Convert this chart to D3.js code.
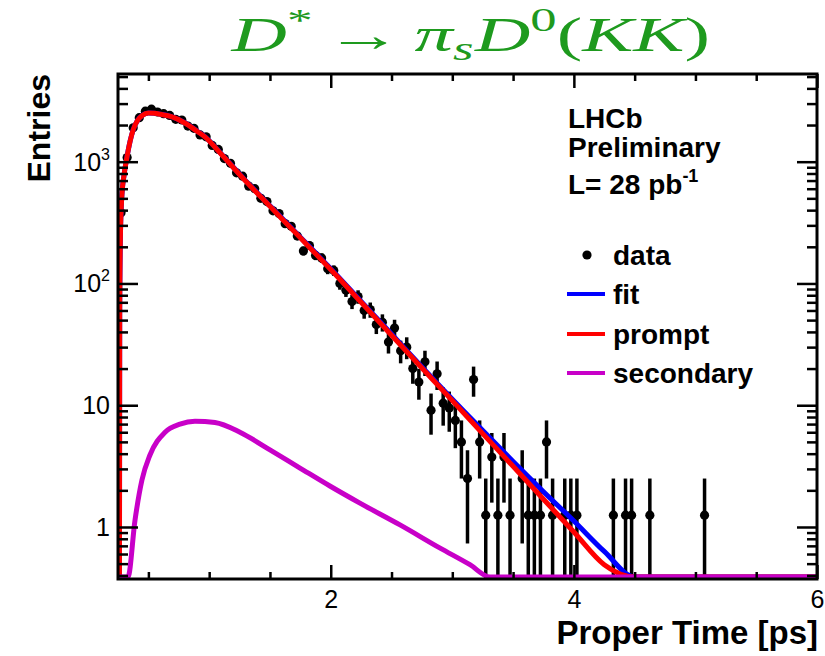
<!DOCTYPE html>
<html lang="en">
<head>
<meta charset="UTF-8">
<title>D* proper time</title>
<style>
  body { margin: 0; background: #fff; }
  svg { display: block; }
  .lbl { font-family: "Liberation Sans", Arial, sans-serif; fill: #000; }
  .bold { font-family: "Liberation Sans", Arial, sans-serif; font-weight: bold; fill: #000; }
</style>
</head>
<body>
<div id="chart"></div>
<script src="https://cdn.jsdelivr.net/npm/d3@7/dist/d3.min.js"></script>
<script>
// histogram bins (centre in ps) and weighted entries
const dataTime = [
  0.275, 0.325, 0.375, 0.425, 0.475, 0.525, 0.575, 0.625, 0.675, 0.725,
  0.775, 0.825, 0.875, 0.925, 0.975, 1.025, 1.075, 1.125, 1.175, 1.225,
  1.275, 1.325, 1.375, 1.425, 1.475, 1.525, 1.575, 1.625, 1.675, 1.725,
  1.775, 1.825, 1.875, 1.925, 1.975, 2.025, 2.075, 2.125, 2.175, 2.225,
  2.275, 2.325, 2.375, 2.425, 2.475, 2.525, 2.575, 2.625, 2.675, 2.725,
  2.775, 2.825, 2.875, 2.925, 2.975, 3.025, 3.075, 3.125, 3.175, 3.225,
  3.275, 3.325, 3.375, 3.425, 3.475, 3.575, 3.625, 3.675, 3.725, 3.775,
  3.825, 3.925, 3.975, 4.025, 4.325, 4.425, 4.475, 4.625, 5.075
];
const dataEntries = [
  380, 1080, 1900, 2300, 2600, 2700, 2560, 2480, 2400, 2230,
  2200, 1960, 1880, 1660, 1600, 1360, 1260, 1060, 970, 810,
  760, 630, 600, 500, 470, 395, 375, 310, 295, 245,
  185, 205, 170, 162, 132, 128, 100, 88, 71, 78,
  60, 61, 46, 48, 33, 43, 28, 30, 20, 15.5,
  22.7, 9.1, 18.1, 10.4, 9.5, 7.5, 5.0, 2.5, 16.25, 5.0,
  1.25, 3.75, 1.25, 3.75, 1.25, 2.5, 1.25, 1.25, 1.25, 5.0,
  1.25, 1.25, 1.25, 1.25, 1.25, 1.25, 1.25, 1.25, 1.25
];
const entryWeight = 1.25;

// fitted curves
const curveTime = [
  0.25, 0.262, 0.264, 0.27, 0.28, 0.30, 0.32, 0.35, 0.375, 0.41,
  0.45, 0.50, 0.55, 0.60, 0.69, 0.80, 0.90, 0.965, 1.10, 1.29,
  1.50, 1.75, 2.00, 2.25, 2.50, 2.75, 3.00, 3.25, 3.50, 3.75,
  4.00, 4.25, 4.50, 4.75, 5.00, 6.00
];
const promptValue = [
  0.3, 0.3, 60, 250, 490, 780, 1040, 1480, 1830, 2180,
  2400, 2510, 2500, 2450, 2340, 2080, 1780, 1600, 1150, 710,
  430, 237, 130, 70, 37.6, 20.2, 10.9, 5.85, 3.15, 1.69,
  0.91, 0.49, 0.26, 0.14, 0.08, 0.01
];
const fitValue = [
  0.3, 0.3, 60, 250, 490, 780, 1040, 1481, 1832, 2182,
  2402, 2514, 2504, 2456, 2347, 2087, 1787, 1607, 1157, 716,
  434, 240, 132, 71.2, 38.5, 20.6, 11.2, 6.2, 3.45, 1.95,
  1.12, 0.63, 0.36, 0.2, 0.11, 0.02
];
const secondaryTime = [
  0.25, 0.332, 0.39, 0.447, 0.513, 0.637, 0.76, 0.883, 1.048, 1.253,
  1.50, 1.747, 1.993, 2.24, 2.57, 2.90, 3.145, 3.31, 3.6, 6.0
];
const secondaryValue = [
  0.05, 0.37, 1.14, 2.43, 3.9, 6.0, 7.0, 7.4, 7.2, 6.0,
  4.3, 3.05, 2.17, 1.57, 1.04, 0.67, 0.49, 0.37, 0.25, 0.01
];

// axes
const xDomain = [0.25, 6];
const yDomain = [0.374, 5250];
const xMajorTicks = [2, 4, 6];
const xMinorTicks = [0.5, 1, 1.5, 2.5, 3, 3.5, 4.5, 5, 5.5];
const yMajorTicks = [1, 10, 100, 1000];
const yLabelBase = ["1", "10", "10", "10"];
const yLabelExp = ["", "", "2", "3"];

const legendLabels = ["data", "fit", "prompt", "secondary"];
const colors = { fit: "#0000ff", prompt: "#ff0000", secondary: "#c800c8", title: "#1e9a1e" };

const W = 825, H = 656;
const box = { left: 118, right: 817, top: 74, bottom: 579 };

const svg = d3.select("#chart").append("svg")
  .attr("width", W).attr("height", H)
  .style("background", "#fff");

const x = d3.scaleLinear().domain(xDomain).range([box.left, box.right]);
const y = d3.scaleLog().domain(yDomain).range([box.bottom, box.top]);

svg.append("defs").append("clipPath").attr("id", "plotclip")
  .append("rect")
  .attr("x", box.left).attr("y", box.top)
  .attr("width", box.right - box.left).attr("height", box.bottom - box.top);

const plot = svg.append("g").attr("clip-path", "url(#plotclip)");

// clamp anything under the minimum onto the bottom edge, like ROOT does
const yc = v => Math.min(y(Math.max(v, yDomain[0])), box.bottom - 2);

const points = dataTime.map((t, i) => ({ t, v: dataEntries[i] }));

plot.selectAll(".err").data(points).enter().append("line")
  .attr("class", "err")
  .attr("x1", d => x(d.t)).attr("x2", d => x(d.t))
  .attr("y1", d => {
    const e = Math.sqrt(entryWeight * d.v);
    return d.v - e <= yDomain[0] ? box.bottom : y(d.v - e);
  })
  .attr("y2", d => y(d.v + Math.sqrt(entryWeight * d.v)))
  .attr("stroke", "#000").attr("stroke-width", 3.5);

plot.selectAll(".pt").data(points).enter().append("circle")
  .attr("class", "pt")
  .attr("cx", d => x(d.t)).attr("cy", d => y(d.v))
  .attr("r", 4.6).attr("fill", "#000");

const line = d3.line()
  .x(d => x(d.t))
  .y(d => yc(d.v))
  .curve(d3.curveMonotoneX);

function drawCurve(ts, vs, color) {
  plot.append("path")
    .datum(ts.map((t, i) => ({ t, v: vs[i] })))
    .attr("d", line)
    .attr("fill", "none")
    .attr("stroke", color)
    .attr("stroke-width", 5)
    .attr("stroke-linejoin", "round");
}
drawCurve(curveTime, fitValue, colors.fit);
drawCurve(curveTime, promptValue, colors.prompt);
drawCurve(secondaryTime, secondaryValue, colors.secondary);

// frame
svg.append("rect")
  .attr("x", box.left).attr("y", box.top)
  .attr("width", box.right - box.left).attr("height", box.bottom - box.top)
  .attr("fill", "none").attr("stroke", "#000").attr("stroke-width", 3);

function ticks(axis, transform) {
  const g = svg.append("g").attr("transform", transform).call(axis);
  g.select(".domain").remove();
  g.selectAll(".tick line").attr("stroke", "#000").attr("stroke-width", 2.5);
  return g;
}

const yMinorTicks = y.ticks().filter(v => yMajorTicks.indexOf(v) < 0);

ticks(d3.axisBottom(x).tickValues(xMinorTicks).tickSize(-7).tickFormat(""), `translate(0,${box.bottom})`);
ticks(d3.axisTop(x).tickValues(xMinorTicks).tickSize(-7).tickFormat(""), `translate(0,${box.top})`);
ticks(d3.axisTop(x).tickValues(xMajorTicks).tickSize(-14).tickFormat(""), `translate(0,${box.top})`);
const xLab = ticks(d3.axisBottom(x).tickValues(xMajorTicks).tickSize(-14).tickPadding(11).tickFormat(d3.format("d")),
  `translate(0,${box.bottom})`);
xLab.selectAll("text").attr("class", "lbl").style("font-size", "25px").attr("font-family", null);

ticks(d3.axisLeft(y).tickValues(yMinorTicks).tickSize(-10).tickFormat(""), `translate(${box.left},0)`);
ticks(d3.axisLeft(y).tickValues(yMajorTicks).tickSize(-20).tickFormat(""), `translate(${box.left},0)`);
ticks(d3.axisRight(y).tickValues(yMinorTicks).tickSize(-10).tickFormat(""), `translate(${box.right},0)`);
ticks(d3.axisRight(y).tickValues(yMajorTicks).tickSize(-20).tickFormat(""), `translate(${box.right},0)`);

// y labels with superscript powers
yMajorTicks.forEach((v, i) => {
  const t = svg.append("text").attr("class", "lbl")
    .attr("x", 110).attr("y", y(v) + 9)
    .attr("text-anchor", "end")
    .style("font-size", "25px");
  t.append("tspan").text(yLabelBase[i]);
  if (yLabelExp[i]) t.append("tspan").attr("dy", -11).style("font-size", "16px").text(yLabelExp[i]);
});

// axis titles
svg.append("text").attr("class", "bold")
  .attr("transform", `translate(50,${box.top}) rotate(-90)`)
  .attr("text-anchor", "end")
  .style("font-size", "32px")
  .text("Entries");

svg.append("text").attr("class", "bold")
  .attr("x", 818).attr("y", 644)
  .attr("text-anchor", "end")
  .style("font-size", "33px")
  .text("Proper Time [ps]");

// LHCb label
const info = svg.append("g").attr("class", "bold").style("font-size", "28px");
info.append("text").attr("x", 568).attr("y", 128).text("LHCb");
info.append("text").attr("x", 568).attr("y", 157).text("Preliminary");
const lum = info.append("text").attr("x", 568).attr("y", 194);
lum.append("tspan").text("L= 28 pb");
lum.append("tspan").attr("dy", -12).style("font-size", "18px").text("-1");

// legend
const legendY = [255, 294, 334, 373];
const legendColor = [null, colors.fit, colors.prompt, colors.secondary];
const leg = svg.append("g").attr("class", "bold").style("font-size", "28px");
legendLabels.forEach((name, i) => {
  if (i === 0) {
    leg.append("circle").attr("cx", 587).attr("cy", legendY[i]).attr("r", 4.6).attr("fill", "#000");
  } else {
    leg.append("line").attr("x1", 567).attr("x2", 605)
      .attr("y1", legendY[i]).attr("y2", legendY[i])
      .attr("stroke", legendColor[i]).attr("stroke-width", 4);
  }
  leg.append("text").attr("x", 613).attr("y", legendY[i] + 10).text(name);
});

// title D* -> pi_s D0(KK), stretched sideways like the pasted LaTeX image
const titleG = svg.append("g");
const title = titleG.append("text")
  .attr("x", 0).attr("y", 51)
  .attr("fill", colors.title)
  .style("font-family", "'Liberation Serif', 'DejaVu Serif', serif")
  .style("font-size", "48px");
title.append("tspan").style("font-style", "italic").text("D");
title.append("tspan").attr("dy", -20).style("font-size", "32px").text("*");
title.append("tspan").attr("dy", 20).attr("dx", 8).text("\u2192");
title.append("tspan").attr("dx", 8).style("font-style", "italic").text("\u03c0");
title.append("tspan").attr("dy", 9).style("font-style", "italic").style("font-size", "33px").text("s");
title.append("tspan").attr("dy", -9).attr("dx", 1).style("font-style", "italic").text("D");
title.append("tspan").attr("dy", -20).style("font-size", "33px").text("0");
title.append("tspan").attr("dy", 20).text("(");
title.append("tspan").style("font-style", "italic").text("KK");
title.append("tspan").text(")");
const tb = title.node().getBBox();
const sx = (710 - 230) / tb.width;
titleG.attr("transform", `translate(230,0) scale(${sx},1) translate(${-tb.x},0)`);
</script>
</body>
</html>
